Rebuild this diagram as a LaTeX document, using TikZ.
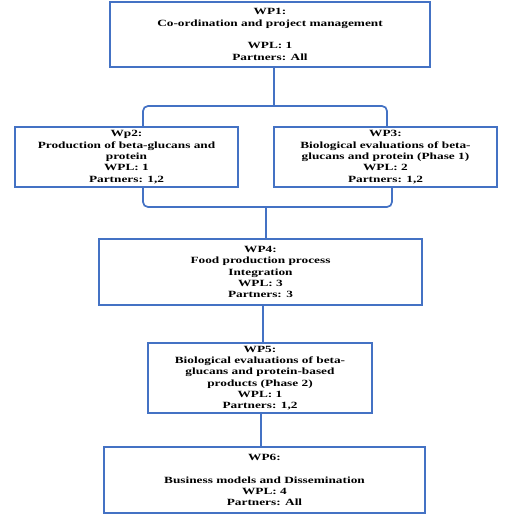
\documentclass[tikz,border=0pt]{standalone}
\usepackage{fontspec}
\setmainfont{Liberation Serif}[FakeStretch=1.4]
\definecolor{wpblue}{RGB}{68,114,196}
\begin{document}
\begin{tikzpicture}[x=1pt,y=-1pt,
  wpbox/.style={draw=wpblue, line width=1.7pt, fill=white, align=center, inner sep=0pt,
    font=\fontsize{9.5}{11.3}\selectfont\bfseries},
  conn/.style={draw=wpblue, line width=1.7pt, rounded corners=5pt}]
\useasboundingbox (0,0) rectangle (512,523);
\node[wpbox, minimum width=320pt, minimum height=65pt] (wp1) at (270,34.5)
  {WP1:\\Co-ordination and project management\\[11.3pt]WPL: 1\\Partners: All};
\node[wpbox, minimum width=223pt, minimum height=60pt] (wp2) at (126.5,157)
  {Wp2:\\Production of beta-glucans and\\protein\\WPL: 1\\Partners: 1,2};
\node[wpbox, minimum width=223pt, minimum height=60pt] (wp3) at (385.5,157)
  {WP3:\\Biological evaluations of beta-\\glucans and protein (Phase 1)\\WPL: 2\\Partners: 1,2};
\node[wpbox, minimum width=323pt, minimum height=66pt] (wp4) at (260.5,272)
  {WP4:\\Food production process\\Integration\\WPL: 3\\Partners: 3};
\node[wpbox, minimum width=224pt, minimum height=70pt] (wp5) at (260,378)
  {WP5:\\Biological evaluations of beta-\\glucans and protein-based\\products (Phase 2)\\WPL: 1\\Partners: 1,2};
\node[wpbox, minimum width=321pt, minimum height=66pt] (wp6) at (264.5,480)
  {WP6:\\[11.3pt]Business models and Dissemination\\WPL: 4\\Partners: All};
\coordinate (j1) at (274,106);
\coordinate (tl) at (143,106);
\coordinate (tr) at (387,106);
\coordinate (bl) at (143,207);
\coordinate (br) at (392,207);
\coordinate (j2) at (266,207);
\draw[conn] (wp1.south -| j1) -- (j1);
\draw[conn] (wp2.north -| tl) -- (tl) -- (tr) -- (wp3.north -| tr);
\draw[conn] (wp2.south -| bl) -- (bl) -- (br) -- (wp3.south -| br);
\draw[conn] (j2) -- (wp4.north -| j2);
\draw[conn] (wp4.south -| 263,0) -- (wp5.north -| 263,0);
\draw[conn] (wp5.south -| 261,0) -- (wp6.north -| 261,0);
\end{tikzpicture}
\end{document}
